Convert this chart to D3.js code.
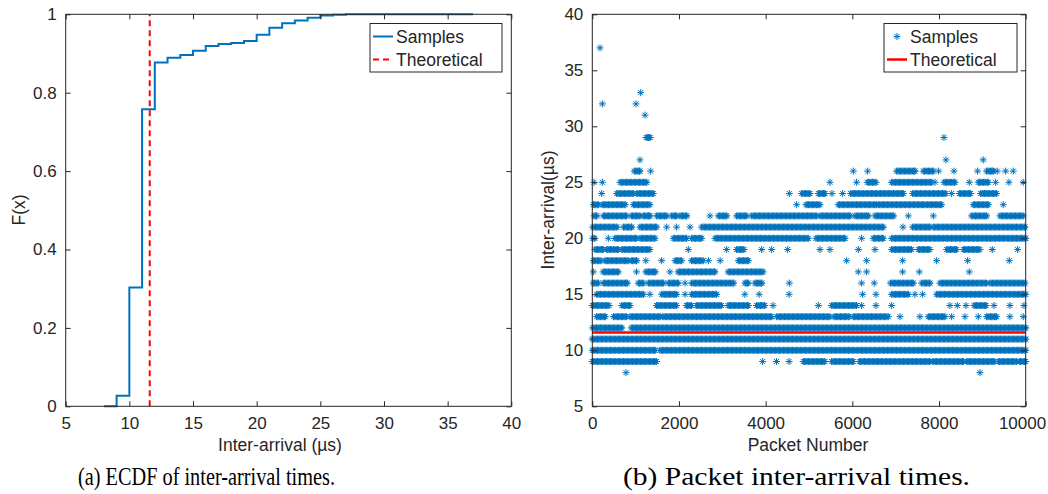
<!DOCTYPE html>
<html><head><meta charset="utf-8">
<script src="https://cdn.jsdelivr.net/npm/d3@7"></script>
<style>
html,body{margin:0;padding:0;background:#fff;}
svg text{font-family:"Liberation Sans",Arial,Helvetica,sans-serif;fill:#262626;}
</style></head>
<body>
<svg id="chart" width="1048" height="494"></svg>
<script>
// ---------- DATA ----------
// (a) ECDF
const ecdfX = [8, 9, 10, 11, 12, 13, 14, 15, 16, 17, 18, 19, 20, 21, 22, 23, 24, 25, 26, 27, 30, 33, 37];
const ecdfF = [0, 0.027, 0.303, 0.758, 0.877, 0.889, 0.896, 0.907, 0.919, 0.924, 0.927, 0.932, 0.948, 0.966, 0.977, 0.984, 0.991, 0.997, 0.999, 1, 1, 1, 1];
const theoretical = 11.6;
const ecdfXTicks = [5, 10, 15, 20, 25, 30, 35, 40];
const ecdfYTicks = [0, 0.2, 0.4, 0.6, 0.8, 1];
// (b) packet inter-arrival samples: each level (µs) with runs [first packet, last packet]
const sampleLevels = [37, 33, 32, 31, 29, 27, 26, 25, 24, 23, 22, 21, 20, 19, 18, 17, 16, 15, 14, 13, 12, 11, 10, 9, 8];
const sampleRuns = [
  [[178,178]],
  [[1116,1116]],
  [[232,232],[1008,1008]],
  [[1216,1216]],
  [[1240,1331],[8114,8114]],
  [[1100,1100],[8160,8160],[9020,9020]],
  [[970,1100],[1347,1347],[6022,6022],[6353,6353],[7022,7445],[7637,7868],[7990,7990],[8345,8345],[8890,8890],[9098,9252],[9344,9344],[9536,9536],[9713,9713]],
  [[39,39],[232,232],[640,1255],[5484,5484],[6099,6099],[6345,6545],[6907,7830],[7907,7907],[8114,8368],[8698,8698],[8906,9137],[9306,9306],[9613,9613],[9944,9944]],
  [[216,216],[562,947],[1024,1408],[4546,4546],[4830,5022],[5215,5369],[5530,5530],[5776,5776],[5961,7176],[7391,8160],[8291,8291],[8468,8729],[8960,9329]],
  [[25,140],[225,760],[947,1330],[4715,4715],[4930,5253],[5676,6560],[6600,7637],[7676,8060],[8790,9137],[9483,9483]],
  [[39,100],[255,790],[900,1100],[1177,1331],[1485,1716],[1831,1946],[2023,2177],[2715,2715],[2908,3100],[3330,3561],[3677,5176],[5253,5945],[6061,6368],[6522,6945],[7291,7291],[7868,7868],[8752,9098],[9406,9944]],
  [[10,570],[720,908],[1100,1485],[1716,1716],[1946,1946],[2254,2254],[2523,6714],[7168,7168],[7391,7791],[7868,9983]],
  [[8,60],[370,370],[520,1023],[1100,1447],[1870,2177],[2292,2523],[2831,4984],[5161,5830],[6214,6214],[6484,6714],[6907,10000]],
  [[60,250],[330,450],[490,600],[680,1330],[2215,2215],[3100,3100],[3330,3500],[3907,3907],[4138,4138],[4507,4507],[5253,5253],[5484,5484],[6138,6138],[6522,6522],[6907,7368],[7522,7791],[8175,8406],[8560,8944],[9229,9229],[9813,9813]],
  [[25,200],[290,640],[680,830],[900,1023],[1235,1235],[1600,1600],[1910,2060],[2290,2560],[2680,2680],[2950,2950],[3370,3600],[5868,5868],[6330,6330],[7160,7160],[7945,7945],[8660,8660],[9621,9621]],
  [[25,25],[250,600],[1020,1020],[1235,1450],[1790,1790],[1980,2830],[3135,3940],[6137,6137],[6330,6330],[7160,7160],[7545,7545],[8698,8698]],
  [[24,139],[255,808],[1062,1177],[1293,1639],[1754,1985],[2139,2139],[2292,3254],[3523,3600],[3753,3907],[4546,4546],[6214,6214],[6506,6506],[6883,7406],[7599,7791],[8021,9098],[9175,9983]],
  [[100,760],[790,1180],[1330,1330],[1600,1946],[2140,2140],[2290,2870],[3520,3520],[3850,3850],[4540,4540],[6237,6237],[6545,6545],[6907,7291],[7445,7445],[7622,7622],[7945,10000]],
  [[0,390],[680,870],[1480,1946],[2170,2290],[2400,2980],[3130,3600],[3790,3980],[4170,4170],[5215,5215],[5522,6099],[6214,6214],[6545,6545],[6907,6907],[8252,8252],[8422,8422],[8622,8622],[8806,9083],[9267,9267],[9636,9636],[9960,9960]],
  [[100,300],[490,790],[870,1562],[1624,4138],[4254,5484],[5576,5930],[6022,6830],[7099,7099],[7560,7560],[7752,8137],[8291,8291],[8599,8599],[8906,8906],[9098,9329],[9636,9636],[9944,9944]],
  [[8,680],[900,10000]],
  [[0,10000]],
  [[0,1450],[1560,10000]],
  [[0,1480],[3930,3930],[4250,4250],[4540,4540],[4868,5369],[5522,6022],[6160,7791],[7853,8560],[8637,9290],[9367,9790],[9852,10000]],
  [[778,778],[8944,8944]]
];
const scatterXTicks = [0, 2000, 4000, 6000, 8000, 10000];
const scatterYTicks = [5, 10, 15, 20, 25, 30, 35, 40];
const runStep = 30;

// ---------- STYLE ----------
const blue = "#0072BD", red = "#FF0000", axisCol = "#262626";
const svg = d3.select("#chart");

function frame(g, x, y, xTicks, yTicks, yFmt) {
  const [x0, x1] = x.range(), [y1, y0] = y.range();
  const tl = 5;
  const bx = g.append("g").attr("transform", `translate(0,${y1})`)
    .call(d3.axisBottom(x).tickValues(xTicks).tickSize(-tl).tickPadding(11).tickSizeOuter(0).tickFormat(d3.format("d")));
  g.append("g").attr("transform", `translate(0,${y0})`)
    .call(d3.axisTop(x).tickValues(xTicks).tickSize(-tl).tickSizeOuter(0).tickFormat(""));
  g.append("g").attr("transform", `translate(${x0},0)`)
    .call(d3.axisLeft(y).tickValues(yTicks).tickSize(-tl).tickPadding(9).tickSizeOuter(0).tickFormat(yFmt));
  g.append("g").attr("transform", `translate(${x1},0)`)
    .call(d3.axisRight(y).tickValues(yTicks).tickSize(-tl).tickSizeOuter(0).tickFormat(""));
  g.selectAll(".domain").remove();
  g.selectAll(".tick line").attr("stroke", axisCol).attr("stroke-width", 1);
  g.selectAll(".tick text").attr("font-size", 17).attr("fill", axisCol);
  g.append("rect").attr("x", x0).attr("y", y0).attr("width", x1 - x0).attr("height", y1 - y0)
    .attr("fill", "none").attr("stroke", axisCol).attr("stroke-width", 1);
  return bx;
}

// ---------- (a) ECDF ----------
const xa = d3.scaleLinear().domain([5, 40]).range([65.7, 511.3]);
const ya = d3.scaleLinear().domain([0, 1]).range([406.3, 14.3]);
const ga = svg.append("g");
const ecdfPts = ecdfX.map((v, i) => [v, ecdfF[i]]);
ga.append("path").datum(ecdfPts)
  .attr("d", d3.line().x(d => xa(d[0])).y(d => ya(d[1])).curve(d3.curveStepAfter))
  .attr("fill", "none").attr("stroke", blue).attr("stroke-width", 2);
ga.append("line").attr("x1", xa(theoretical)).attr("x2", xa(theoretical))
  .attr("y1", ya(0)).attr("y2", ya(1))
  .attr("stroke", red).attr("stroke-width", 2).attr("stroke-dasharray", "6,4");
frame(ga, xa, ya, ecdfXTicks, ecdfYTicks, d => d === 0 || d === 1 ? String(d) : d3.format(".1f")(d));
ga.append("text").attr("x", 280).attr("y", 451).attr("text-anchor", "middle").attr("font-size", 17.5).text("Inter-arrival (µs)");
ga.append("text").attr("transform", "translate(25,210) rotate(-90)").attr("text-anchor", "middle").attr("font-size", 17.5).text("F(x)");
// legend a
const la = ga.append("g");
la.append("rect").attr("x", 370).attr("y", 23.5).attr("width", 132).attr("height", 48.5)
  .attr("fill", "#fff").attr("stroke", axisCol).attr("stroke-width", 1);
la.append("line").attr("x1", 373).attr("x2", 393).attr("y1", 36.5).attr("y2", 36.5).attr("stroke", blue).attr("stroke-width", 2);
la.append("line").attr("x1", 373).attr("x2", 393).attr("y1", 59.5).attr("y2", 59.5).attr("stroke", red).attr("stroke-width", 2).attr("stroke-dasharray", "6,4");
la.append("text").attr("x", 396).attr("y", 43).attr("font-size", 17.5).text("Samples");
la.append("text").attr("x", 396).attr("y", 66).attr("font-size", 17.5).text("Theoretical");

// ---------- (b) scatter ----------
const xb = d3.scaleLinear().domain([0, 10000]).range([592.3, 1025.7]);
const yb = d3.scaleLinear().domain([5, 40]).range([406.3, 14.3]);
const gb = svg.append("g");
const pts = [];
sampleLevels.forEach((lv, i) => {
  sampleRuns[i].forEach(([a, b]) => {
    for (let p = a; p <= b; p += runStep) pts.push([p, lv]);
    if ((b - a) % runStep !== 0) pts.push([b, lv]);
  });
});
const star = "M-3.5,0H3.5M0,-3.5V3.5M-2.5,-2.5L2.5,2.5M-2.5,2.5L2.5,-2.5";
gb.append("g").selectAll("path").data(pts).join("path")
  .attr("d", star).attr("transform", d => `translate(${xb(d[0])},${yb(d[1])})`)
  .attr("fill", "none").attr("stroke", blue).attr("stroke-width", 1);
gb.append("line").attr("x1", xb(0)).attr("x2", xb(10000)).attr("y1", yb(theoretical)).attr("y2", yb(theoretical))
  .attr("stroke", red).attr("stroke-width", 2.5);
const bxAxis = frame(gb, xb, yb, scatterXTicks, scatterYTicks, d3.format("d"));
bxAxis.selectAll(".tick text").filter(d => d === 10000).attr("text-anchor", "end").attr("dx", 0).attr("x", 20);
gb.append("text").attr("x", 808).attr("y", 451).attr("text-anchor", "middle").attr("font-size", 17.5).text("Packet Number");
gb.append("text").attr("transform", "translate(554,210) rotate(-90)").attr("text-anchor", "middle").attr("font-size", 17.5).text("Inter-arrival(µs)");
// legend b
const lb = gb.append("g");
lb.append("rect").attr("x", 884).attr("y", 23.5).attr("width", 133).attr("height", 48.5)
  .attr("fill", "#fff").attr("stroke", axisCol).attr("stroke-width", 1);
lb.append("path").attr("d", star).attr("transform", "translate(897,36.5)").attr("fill", "none").attr("stroke", blue).attr("stroke-width", 1);
lb.append("line").attr("x1", 887).attr("x2", 907).attr("y1", 59.5).attr("y2", 59.5).attr("stroke", red).attr("stroke-width", 2.5);
lb.append("text").attr("x", 910).attr("y", 43).attr("font-size", 17.5).text("Samples");
lb.append("text").attr("x", 910).attr("y", 66).attr("font-size", 17.5).text("Theoretical");

// ---------- captions ----------
svg.append("text").attr("x", 78).attr("y", 485).attr("font-size", 26)
  .style("font-family", "'Liberation Serif',serif").style("fill", "#000")
  .attr("textLength", 257).attr("lengthAdjust", "spacingAndGlyphs").text("(a) ECDF of inter-arrival times.");
svg.append("text").attr("x", 623).attr("y", 485).attr("font-size", 26)
  .style("font-family", "'Liberation Serif',serif").style("fill", "#000")
  .attr("textLength", 347).attr("lengthAdjust", "spacingAndGlyphs").text("(b) Packet inter-arrival times.");
</script>
</body></html>
